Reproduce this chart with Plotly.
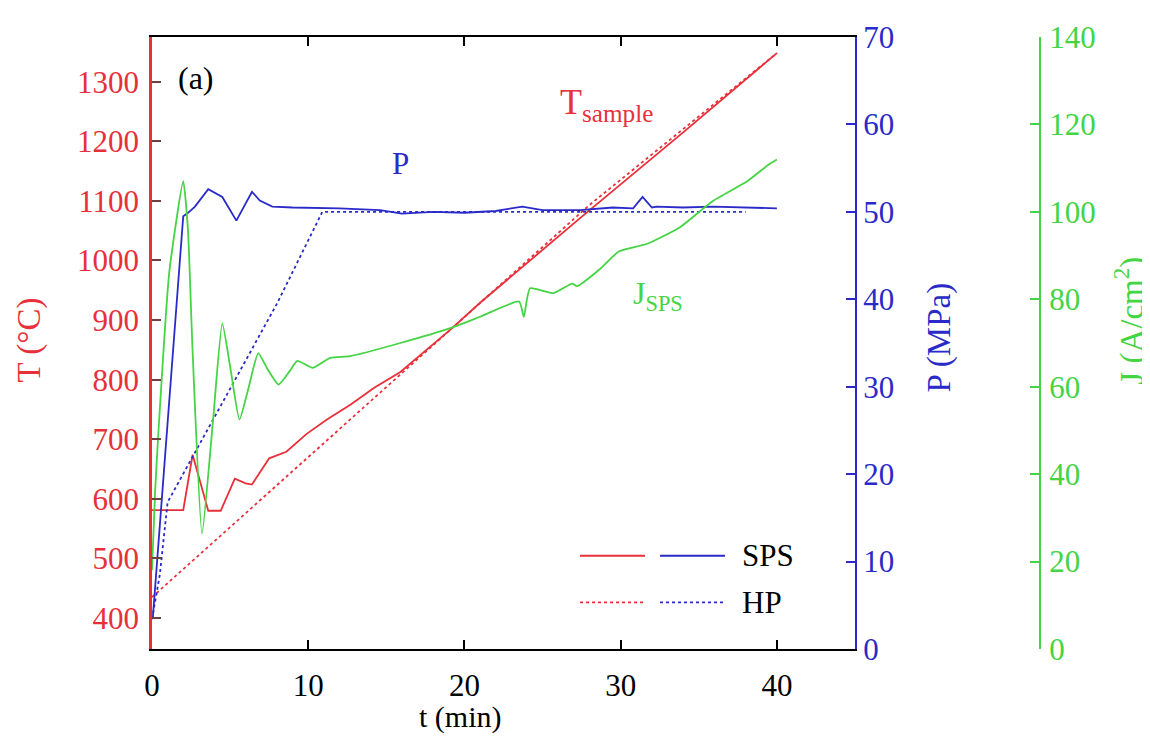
import plotly.graph_objects as go

# ---------------- data ----------------
t_T_sps = [0, 2.0, 2.6, 3.6, 4.4, 5.3, 6.0, 6.4, 7.5, 8.6, 9.9, 11.2, 12.7, 14.2, 15.9, 19.1, 21, 27.4, 34, 40]
T_sps = [581, 581, 674, 580, 580, 634, 626, 624, 668, 679, 709, 733, 758, 786, 813, 884, 929, 1071, 1215, 1348]

t_T_hp = [0, 10.6, 21, 28, 40]
T_hp = [435, 684, 929, 1093, 1348]

t_P_sps = [0.05, 2.0, 2.25, 2.75, 3.6, 4.5, 5.4, 6.4, 6.9, 7.7, 9, 12, 14.6, 16, 18, 20, 22, 23.7,
           25, 27.4, 29.5, 30.8, 31.4, 32.0, 32.3, 34, 35.9, 38, 40]
P_sps = [3.5, 49.5, 49.8, 50.6, 52.6, 51.7, 49.0, 52.3, 51.3, 50.6, 50.5, 50.4, 50.2, 49.8, 50.0,
         49.9, 50.1, 50.6, 50.2, 50.2, 50.5, 50.4, 51.7, 50.5, 50.6, 50.5, 50.6, 50.5, 50.4]

t_P_hp = [0, 0.5, 1.0, 8.0, 10.9, 38]
P_hp = [3.4, 8.5, 16.8, 39.5, 50, 50]

t_J_sps = [0, 0.2, 0.4, 1.1, 2.0, 2.3, 2.6, 3.2, 3.9, 4.5, 5.05, 5.6, 6.2, 6.8, 7.4, 8.1, 8.8, 9.3,
           10.3, 11.4, 12.7, 15.9, 19.1, 21, 23.5, 23.8, 24.2, 25.7, 26.9, 27.2, 28.7, 29.9, 31.7,
           33.8, 35.9, 38.1, 39.5, 40]
J_sps = [18, 36, 49, 86, 107, 96, 68, 26.4, 52, 74.5, 63.5, 52.5, 60, 67.7, 64, 60.5, 63.5, 65.9,
         64.3, 66.6, 67, 70, 73.4, 76, 79.5, 76, 82.5, 81.4, 83.6, 83, 87, 91, 92.7,
         96.5, 102.5, 107, 110.9, 112]

x_ticks = [0, 10, 20, 30, 40]
T_ticks = [400, 500, 600, 700, 800, 900, 1000, 1100, 1200, 1300]
P_ticks = [0, 10, 20, 30, 40, 50, 60, 70]
J_ticks = [0, 20, 40, 60, 80, 100, 120, 140]

# ---------------- style ----------------
RED = "#e8303a"
BLUE = "#2a2ac8"
GREEN = "#44d444"
FONT = "Liberation Serif, Times New Roman, serif"
TICK_SIZE = 31
TITLE_SIZE = 33

fig = go.Figure()

fig.add_trace(go.Scatter(x=t_T_hp, y=T_hp, mode="lines", yaxis="y",
                         line=dict(color=RED, width=1.8, dash="dot"), showlegend=False))
fig.add_trace(go.Scatter(x=t_P_hp, y=P_hp, mode="lines", yaxis="y2",
                         line=dict(color=BLUE, width=1.8, dash="dot"), showlegend=False))
fig.add_trace(go.Scatter(x=t_J_sps, y=J_sps, mode="lines", yaxis="y3",
                         line=dict(color=GREEN, width=1.8, shape="spline", smoothing=0.5),
                         showlegend=False))
fig.add_trace(go.Scatter(x=t_T_sps, y=T_sps, mode="lines", yaxis="y",
                         line=dict(color=RED, width=1.8), showlegend=False))
fig.add_trace(go.Scatter(x=t_P_sps, y=P_sps, mode="lines", yaxis="y2",
                         line=dict(color=BLUE, width=1.8), showlegend=False))

# page has an 8px body offset; paper spans screen x 152..1080 and screen y 32..649
def px(xp):
    return (xp - 152) / 928.0

def py(yp):
    return (649 - yp) / 617.0

fig.update_layout(
    width=1150, height=749,
    margin=dict(l=144, r=78, t=24, b=108),
    paper_bgcolor="white", plot_bgcolor="white",
    font=dict(family=FONT, size=TICK_SIZE, color="black"),
    xaxis=dict(domain=[0, px(855)], range=[0, 45], tickvals=x_ticks,
               ticks="inside", ticklen=9, tickwidth=2, tickcolor="black",
               showline=True, linecolor="black", linewidth=2, mirror="ticks",
               showgrid=False, zeroline=False, ticklabelstandoff=8,
               tickfont=dict(family=FONT, size=TICK_SIZE, color="black")),
    yaxis=dict(range=[348, 1375], tickvals=T_ticks,
               ticks="inside", ticklen=9, tickwidth=2, tickcolor="#704040",
               showline=True, linecolor=RED, linewidth=2.5,
               showgrid=False, zeroline=False, ticklabelstandoff=4,
               tickfont=dict(family=FONT, size=TICK_SIZE, color=RED)),
    yaxis2=dict(range=[0, 70], tickvals=P_ticks, overlaying="y", side="right", anchor="x",
                ticks="inside", ticklen=9, tickwidth=2, tickcolor=BLUE,
                showline=True, linecolor=BLUE, linewidth=2,
                showgrid=False, zeroline=False,
                tickfont=dict(family=FONT, size=TICK_SIZE, color=BLUE)),
    yaxis3=dict(range=[0, 140], tickvals=J_ticks, overlaying="y", side="right", anchor="free",
                position=px(1040),
                ticks="inside", ticklen=9, tickwidth=2, tickcolor=GREEN,
                showline=True, linecolor=GREEN, linewidth=2,
                showgrid=False, zeroline=False, ticklabelstandoff=2,
                tickfont=dict(family=FONT, size=TICK_SIZE, color=GREEN)),
)

def note(text, x, y, size, color, xref="paper", yref="paper", angle=0, xanchor="center"):
    return dict(text=text, xref=xref, yref=yref, x=x, y=y, textangle=angle,
                xanchor=xanchor, yanchor="middle", showarrow=False,
                font=dict(family=FONT, size=size, color=color))

ann = [
    # axis titles
    note("T (°C)", px(30), py(338), TITLE_SIZE, RED, angle=-90),
    note("P (MPa)", px(940), py(335), TITLE_SIZE, BLUE, angle=-90),
    note("J (A/cm<sup>2</sup>)", px(1130), py(318), TITLE_SIZE, GREEN, angle=-90),
    note("t (min)", px(460), py(718), 30, "black"),
    # in-plot labels
    note("(a)", 2.8, 1307, 32, "black", xref="x", yref="y"),
    note("T<sub>sample</sub>", 29.1, 1262, 36, RED, xref="x", yref="y"),
    note("P", 15.9, 1162, 31, BLUE, xref="x", yref="y"),
    note("J<sub>SPS</sub>", 32.4, 942, 32, GREEN, xref="x", yref="y"),
    # legend text
    note("SPS", px(740), py(555), 31, "black", xanchor="left"),
    note("HP", px(740), py(602), 31, "black", xanchor="left"),
]
fig.update_layout(annotations=ann)

# legend line samples
shapes = []
for (x0, x1, yy, col, dash) in [(580, 645, 555, RED, "solid"), (660, 725, 555, BLUE, "solid"),
                                 (580, 645, 602, RED, "dot"), (660, 725, 602, BLUE, "dot")]:
    shapes.append(dict(type="line", xref="paper", yref="paper", x0=px(x0), x1=px(x1),
                       y0=py(yy), y1=py(yy), line=dict(color=col, width=1.8, dash=dash)))
fig.update_layout(shapes=shapes)

fig.write_html("out.html")
